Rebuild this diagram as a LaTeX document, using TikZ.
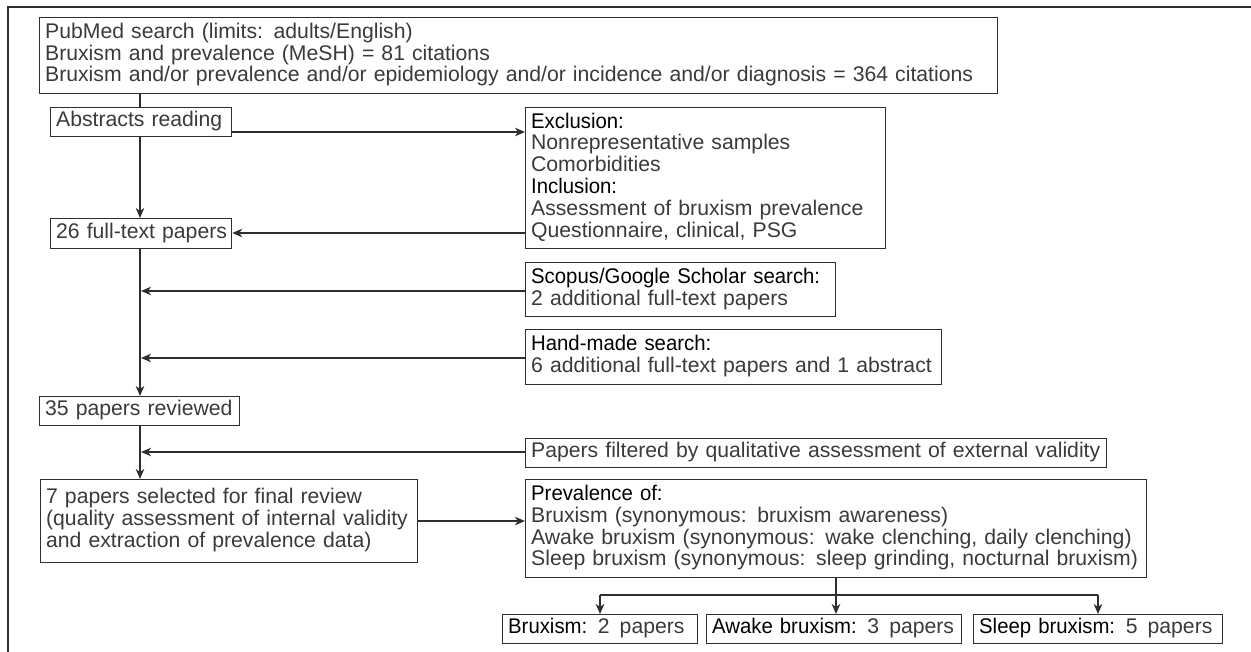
\documentclass[tikz,border=0pt]{standalone}
\usepackage{fontspec}
\setmainfont{Liberation Sans}
\newfontfamily\hdfont{Liberation Sans}[FakeStretch=0.96]
\usetikzlibrary{arrows.meta}
\definecolor{linecol}{HTML}{2E2E2E}
\definecolor{txtcol}{HTML}{3A3A3A}
\newcommand{\hd}[1]{{\hdfont\textcolor{black}{#1}}}
\newcommand{\tl}[1]{\begin{tabular}{@{\hspace*{5.5pt}}l@{}}#1\end{tabular}}
\begin{document}
\begin{tikzpicture}[x=1pt,y=-1pt,
  box/.style={draw=linecol, line width=1.3pt, anchor=north west, inner xsep=0pt, inner ysep=0pt,
    align=left, text=txtcol, font=\fontsize{21.2}{21.5}\selectfont},
  wh/.style 2 args={minimum width=#1pt, text width=#1pt, minimum height=#2pt},
  ln/.style={draw=linecol, line width=1.3pt},
  arr/.style={ln, -{Stealth[length=10pt,width=8.5pt,inset=3pt]}}]
\useasboundingbox (0,0) rectangle (1251,652);
% outer frame (partial)
\draw[draw=linecol, line width=2pt] (8,652) -- (8,7) -- (1251,7);

\node[box, wh={958}{76}] (pub) at (39,17) {\tl{PubMed search (limits: adults/English)\\Bruxism and prevalence (MeSH) = 81 citations\\Bruxism and/or prevalence and/or epidemiology and/or incidence and/or diagnosis = 364 citations}};
\node[box, wh={181}{29}] (abs) at (50,107) {\tl{Abstracts reading}};
\node[box, wh={360}{141}] (excl) at (525,107) {\tl{\hd{Exclusion:}\\Nonrepresentative samples\\Comorbidities\\\hd{Inclusion:}\\Assessment of bruxism prevalence\\Questionnaire, clinical, PSG}};
\node[box, wh={181}{30}] (ft26) at (50,218) {\tl{26 full-text papers}};
\node[box, wh={310}{54}] (scop) at (525,262) {\tl{\hd{Scopus/Google Scholar search:}\\2 additional full-text papers}};
\node[box, wh={416}{55}] (hand) at (525,329) {\tl{\hd{Hand-made search:}\\6 additional full-text papers and 1 abstract}};
\node[box, wh={200}{29}] (p35) at (39,396) {\tl{35 papers reviewed}};
\node[box, wh={581}{29}] (filt) at (525,438) {\tl{Papers filtered by qualitative assessment of external validity}};
\node[box, wh={377}{83}] (p7) at (40,479) {\tl{7 papers selected for final review\\(quality assessment of internal validity\\and extraction of prevalence data)}};
\node[box, wh={621}{98}] (prev) at (525,479) {\tl{\hd{Prevalence of:}\\Bruxism (synonymous: bruxism awareness)\\Awake bruxism (synonymous: wake clenching, daily clenching)\\Sleep bruxism (synonymous: sleep grinding, nocturnal bruxism)}};
\node[box, wh={195}{29}] (brx) at (502,614) {\tl{\hd{Bruxism:} 2\kern3pt\ papers}};
\node[box, wh={255}{29}] (awk) at (706,614) {\tl{\hd{Awake bruxism:} 3\kern3pt\ papers}};
\node[box, wh={249}{29}] (slp) at (973,614) {\tl{\hd{Sleep bruxism:} 5\kern3pt\ papers}};

\coordinate (vx) at (140,0);
\draw[ln] (pub.south -| vx) -- (abs.north -| vx);
\draw[arr] (abs.south -| vx) -- (ft26.north -| vx);
\draw[arr] (abs.east |- 0,132) -- (excl.west |- 0,132);
\draw[arr] (excl.west |- 0,233) -- (ft26.east |- 0,233);
\draw[arr] (ft26.south -| vx) -- (p35.north -| vx);
\coordinate (j1) at (141,291);
\coordinate (j2) at (141,358);
\coordinate (j3) at (141,452);
\draw[arr] (scop.west |- j1) -- (j1);
\draw[arr] (hand.west |- j2) -- (j2);
\draw[arr] (p35.south -| vx) -- (p7.north -| vx);
\draw[arr] (filt.west |- j3) -- (j3);
\draw[arr] (p7.east |- 0,521) -- (prev.west |- 0,521);
\coordinate (bx) at (836,595);
\coordinate (bl) at (600,595);
\coordinate (br) at (1098,595);
\draw[ln] (prev.south -| bx) -- (bx);
\draw[ln] (bl) -- (br);
\draw[arr] (bl) -- (brx.north -| bl);
\draw[arr] (bx) -- (awk.north -| bx);
\draw[arr] (br) -- (slp.north -| br);
\end{tikzpicture}
\end{document}
